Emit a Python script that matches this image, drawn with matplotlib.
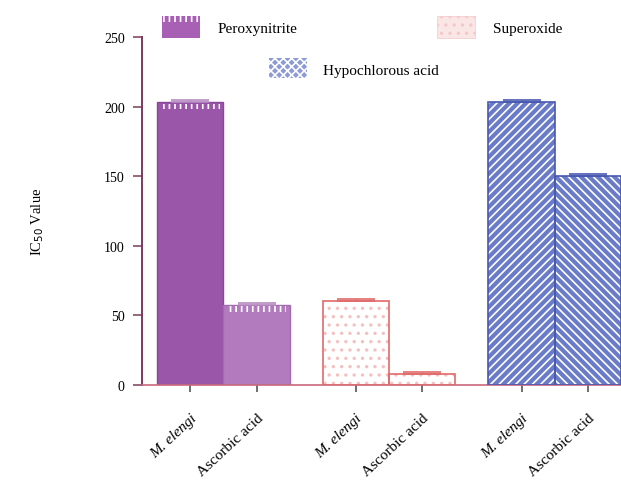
import matplotlib
matplotlib.use("Agg")
import matplotlib.pyplot as plt
from matplotlib.patches import Rectangle

plt.rcParams['font.family'] = ['Liberation Serif', 'DejaVu Serif']
plt.rcParams['hatch.linewidth'] = 1.2

# IC50 values per radical assay
assays = ["Peroxynitrite", "Superoxide", "Hypochlorous acid"]
samples = ["M. elengi", "Ascorbic acid"]
peroxynitrite = [203, 57.5]
superoxide = [60, 8]
hypochlorous = [203, 150]
peroxynitrite_err = [2, 1.5]
superoxide_err = [1.5, 1]
hypochlorous_err = [1.5, 1.5]
yticks = [0, 50, 100, 150, 200, 250]

fig = plt.figure(figsize=(6.21, 4.85), dpi=100)
ax = fig.add_axes([142/621, 99/485, 1 - 142/621, 348/485])

width = 1.0
pos_per = [0.5, 1.5]
pos_sup = [3.0, 4.0]
pos_hyp = [5.5, 6.5]

# Peroxynitrite: solid purples
ax.bar(pos_per, peroxynitrite, width, color=["#9a56a8", "#b17bbd"],
       edgecolor=["#8a4699", "#a36cb0"], linewidth=1, zorder=2)
for x, h in zip(pos_per, peroxynitrite):
    ax.bar(x, 4, width * 0.9, bottom=h - 5, color="none", edgecolor="white",
           hatch="|||", linewidth=0, zorder=3)

# Superoxide: white bars with dotted pink fill
ax.bar(pos_sup, superoxide, width, color="white", edgecolor="#f4c0c0",
       hatch="..", linewidth=0, zorder=2)
ax.bar(pos_sup, superoxide, width, color="none", edgecolor="#e06a6a",
       linewidth=1.2, zorder=3)

# Hypochlorous acid: blue with white diagonal lines
for x, h, hp in zip(pos_hyp, hypochlorous, ["////", "\\\\\\\\"]):
    ax.bar(x, h, width, color="#6a7cc8", edgecolor="white", hatch=hp,
           linewidth=0, zorder=2)
ax.bar(pos_hyp, hypochlorous, width, color="none", edgecolor="#4858b0",
       linewidth=1.2, zorder=3)

# error bars (upper only)
for pos, vals, errs, c in [(pos_per, peroxynitrite, peroxynitrite_err, "#b58ac0"),
                           (pos_sup, superoxide, superoxide_err, "#e06a6a"),
                           (pos_hyp, hypochlorous, hypochlorous_err, "#4858b0")]:
    ax.errorbar(pos, vals, yerr=[[0] * len(errs), errs], fmt="none",
                ecolor=c, elinewidth=1, capsize=14, capthick=1.2, zorder=4)

ax.set_xlim(-0.23, 7.0)
ax.set_ylim(0, 250)
ax.set_yticks(yticks)
ax.set_yticklabels([str(t) for t in yticks], fontsize=10)
ticks = pos_per + pos_sup + pos_hyp
ax.set_xticks(ticks)
labels = ax.set_xticklabels(samples * 3, rotation=43, ha="right",
                            rotation_mode="anchor", fontsize=11)
for lab in labels:
    if lab.get_text() == "M. elengi":
        lab.set_fontstyle("italic")

for s in ["top", "right"]:
    ax.spines[s].set_visible(False)
ax.spines["left"].set_color("#7a3a60")
ax.spines["left"].set_linewidth(1.4)
ax.spines["bottom"].set_color("#c8687c")
ax.spines["bottom"].set_linewidth(1.2)
ax.tick_params(axis="y", length=6.5, width=1.2, color="#8a4a6a", pad=6)
ax.tick_params(axis="x", length=5, width=1.2, color="#555555", pad=14)

fig.text(38/621, 1 - 222/485, "IC$_{50}$ Value", ha="center", va="center",
         rotation=90, fontsize=10.5)

# legend built from patches and text
def legend_patch(x, y, w, h, **kw):
    fig.add_artist(Rectangle((x/621, 1 - (y + h)/485), w/621, h/485,
                             transform=fig.transFigure, **kw))

legend_patch(162, 17, 38, 22, facecolor="#a860b4", edgecolor="none")
legend_patch(162, 17, 38, 6, facecolor="none", edgecolor="white",
             hatch="|||", linewidth=0)
fig.text(218/621, 1 - 29/485, assays[0], fontsize=11, va="center")

legend_patch(437, 17, 38, 22, facecolor="#fbe6e6", edgecolor="#f4c8c8",
             hatch="..", linewidth=0.5)
fig.text(493/621, 1 - 29/485, assays[1], fontsize=11, va="center")

legend_patch(269, 59, 38, 20, facecolor="#8c9ad6", edgecolor="white",
             hatch="xxxx", linewidth=0)
fig.text(323/621, 1 - 71/485, assays[2], fontsize=11, va="center")

fig.savefig("out.png", dpi=100)
